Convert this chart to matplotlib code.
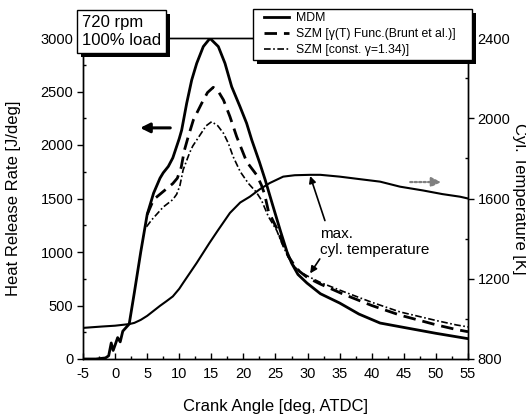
import matplotlib
matplotlib.use("Agg")
import matplotlib.pyplot as plt
import matplotlib.patheffects as pe
from matplotlib.patches import Rectangle
from matplotlib.ticker import MultipleLocator

plt.rcParams['font.family'] = ['Liberation Sans', 'DejaVu Sans']
plt.rcParams['axes.unicode_minus'] = False

# Heat release rate, MDM [J/deg]
mdm_ca = [-5, -3, -1.5, -1.0, -0.6, -0.3, 0.0, 0.4, 0.8, 1.2, 2.2, 3, 4, 5, 6, 7,
          7.5, 8.3, 9, 10, 10.38, 11.16, 11.94, 12.72, 13.75, 14.79, 16.09,
          17.13, 18.17, 19.47, 20.5, 21.3, 22.5, 23.4, 24.5, 25.8, 26.8, 27.5,
          28.5, 29.9, 32, 35, 38, 41.3, 45, 50, 55]
mdm_hrr = [0, 0, 10, 30, 150, 80, 130, 200, 160, 260, 327, 620, 1000, 1350, 1550,
           1690, 1740, 1800, 1880, 2060, 2140, 2390, 2607, 2763, 2920, 2997, 2920,
           2763, 2545, 2358, 2203, 2047, 1840, 1673, 1450, 1190, 1000, 897, 790,
           710, 610, 523, 420, 336, 295, 240, 190]

# Heat release rate, SZM with gamma(T) after Brunt et al. [J/deg]
brunt_ca = [5, 6, 7, 8, 9, 9.7, 10.3, 10.8, 11.4, 12.2, 13.5, 14.4, 15.3, 16.1,
            16.9, 17.9, 18.95, 20.5, 22.06, 22.8, 23.3, 23.9, 25.2, 26, 27, 28,
            28.8, 30, 32, 35.6, 40, 44.4, 50, 53.2, 55]
brunt_hrr = [1350, 1490, 1540, 1590, 1640, 1690, 1790, 1950, 2078, 2234, 2390,
             2490, 2539, 2500, 2420, 2265, 2078, 1844, 1720, 1626, 1540, 1380,
             1220, 1100, 960, 870, 816, 760, 700, 605, 500, 410, 320, 275, 255]

# Heat release rate, SZM with constant gamma = 1.34 [J/deg]
const_ca = [4.9, 5.7, 7.5, 9.0, 9.6, 10.1, 10.6, 11.6, 12.1, 13.2, 14.2, 15.05,
            16.0, 16.9, 17.65, 18.4, 19.5, 20.76, 22, 22.8, 23.9, 25.2, 26, 27,
            28, 28.8, 30, 32, 35.6, 40, 44.4, 50, 53.2, 55]
const_hrr = [1236, 1300, 1420, 1490, 1540, 1620, 1766, 1925, 1990, 2090, 2180,
             2218, 2180, 2109, 2016, 1891, 1751, 1642, 1560, 1486, 1330, 1200,
             1080, 950, 860, 816, 775, 715, 630, 530, 440, 360, 318, 300]

# Cylinder temperature, MDM [K]
temp_ca = [-5, -2, 0, 2.2, 3, 4, 5, 6, 7, 8, 9, 10, 10.6, 12.7, 14.7, 16, 17.9,
           19.5, 21, 22.5, 24.1, 26.2, 28, 30.4, 32, 35, 38, 41.3, 44.4, 48, 51,
           53.75, 55]
temp_k = [955, 962, 966, 974, 980, 995, 1015, 1040, 1065, 1088, 1112, 1150, 1179,
          1278, 1378, 1440, 1528, 1580, 1609, 1645, 1677, 1709, 1716, 1718, 1718,
          1709, 1697, 1684, 1659, 1640, 1622, 1609, 1600]

labels = ["MDM",
          "SZM [\u03b3(T) Func.(Brunt et al.)]",
          "SZM [const. \u03b3=1.34)]"]

fig = plt.figure(figsize=(5.26, 4.16), dpi=100)
ax = fig.add_axes([83 / 526, 1 - 359 / 416, 385 / 526, 321 / 416])
ax2 = ax.twinx()

l1, = ax.plot(mdm_ca, mdm_hrr, color='k', lw=2.0, solid_joinstyle='round')
l2, = ax.plot(brunt_ca, brunt_hrr, color='k', lw=2.0, dashes=(4.5, 2.5))
l3, = ax.plot(const_ca, const_hrr, color='k', lw=1.2, dashes=(4, 1.5, 1, 1.5))
ax2.plot(temp_ca, temp_k, color='k', lw=1.5)

ax.set_xlim(-5, 55)
ax.set_ylim(0, 3000)
ax2.set_ylim(800, 2400)

ax.xaxis.set_major_locator(MultipleLocator(5))
ax.xaxis.set_minor_locator(MultipleLocator(2.5))
ax.yaxis.set_major_locator(MultipleLocator(500))
ax.yaxis.set_minor_locator(MultipleLocator(250))
ax2.yaxis.set_major_locator(MultipleLocator(400))
ax2.yaxis.set_minor_locator(MultipleLocator(200))

ax.tick_params(axis='x', which='major', direction='in', length=4, width=1,
               labelsize=10.5, pad=6)
ax.tick_params(axis='x', which='minor', direction='in', length=2.5, width=1)
ax.tick_params(axis='y', which='major', direction='out', length=4, width=1,
               labelsize=10.5, pad=3)
ax.tick_params(axis='y', which='minor', direction='in', length=2.5, width=1)
ax2.tick_params(axis='y', which='major', direction='out', length=4, width=1,
                labelsize=10.5, pad=3)
ax2.tick_params(axis='y', which='minor', direction='in', length=2.5, width=1)

for a in (ax, ax2):
    for s in a.spines.values():
        s.set_linewidth(1.0)

ax.set_xlabel("Crank Angle [deg, ATDC]", fontsize=12, labelpad=13)
ax.set_ylabel("Heat Release Rate [J/deg]", fontsize=12, labelpad=14)
ax2.set_ylabel("Cyl. Temperature [K]", fontsize=12, rotation=-90, labelpad=12)

shadow = [pe.withSimplePatchShadow(offset=(3, -3), shadow_rgbFace='k', alpha=1.0)]

# legend frame drawn separately so the padding can be set freely
frame = Rectangle((170 / 385, (359 - 60) / 321), 219 / 385, 51 / 321,
                  transform=ax.transAxes, fc='white', ec='k', lw=1.0,
                  clip_on=False, zorder=4)
frame.set_path_effects(shadow)
ax2.add_patch(frame)

leg = ax2.legend([l1, l2, l3], labels, loc='upper left',
                 bbox_to_anchor=((262 - 83) / 385, (359 - 10) / 321),
                 fontsize=8.8, frameon=False, borderaxespad=0,
                 handlelength=2.05, handletextpad=0.5, labelspacing=0.32,
                 borderpad=0.2)
leg.set_zorder(5)

box = ax2.text(-0.003, 1.072, "720 rpm\n100% load", transform=ax.transAxes,
               fontsize=12, va='top', ha='left', linespacing=1.3,
               bbox=dict(boxstyle='square,pad=0.28', fc='white', ec='k', lw=1.0))
box.get_bbox_patch().set_path_effects(shadow)

# direction markers for the two y-axes
ax.annotate("", xy=(3.9, 2160), xytext=(8.6, 2160),
            arrowprops=dict(arrowstyle='-|>', color='k', lw=2.2,
                            mutation_scale=14, shrinkA=0, shrinkB=0))
ax2.annotate("", xy=(50.8, 1682), xytext=(46, 1682),
             arrowprops=dict(arrowstyle='-|>', color='0.5', lw=1.6,
                             linestyle=(0, (1, 1)), mutation_scale=14,
                             shrinkA=0, shrinkB=0))

ax.text(32.0, 1235, "max.\ncyl. temperature", fontsize=11, va='top',
        ha='left', linespacing=1.15)
ax2.annotate("", xy=(30.4, 1712), xytext=(32.7, 1490),
             arrowprops=dict(arrowstyle='-|>', color='k', lw=1.2,
                             mutation_scale=10, shrinkA=0, shrinkB=0))
ax.annotate("", xy=(30.4, 800), xytext=(31.9, 935),
            arrowprops=dict(arrowstyle='-|>', color='k', lw=1.2,
                            mutation_scale=10, shrinkA=0, shrinkB=0))

fig.savefig("out.png", dpi=100)
